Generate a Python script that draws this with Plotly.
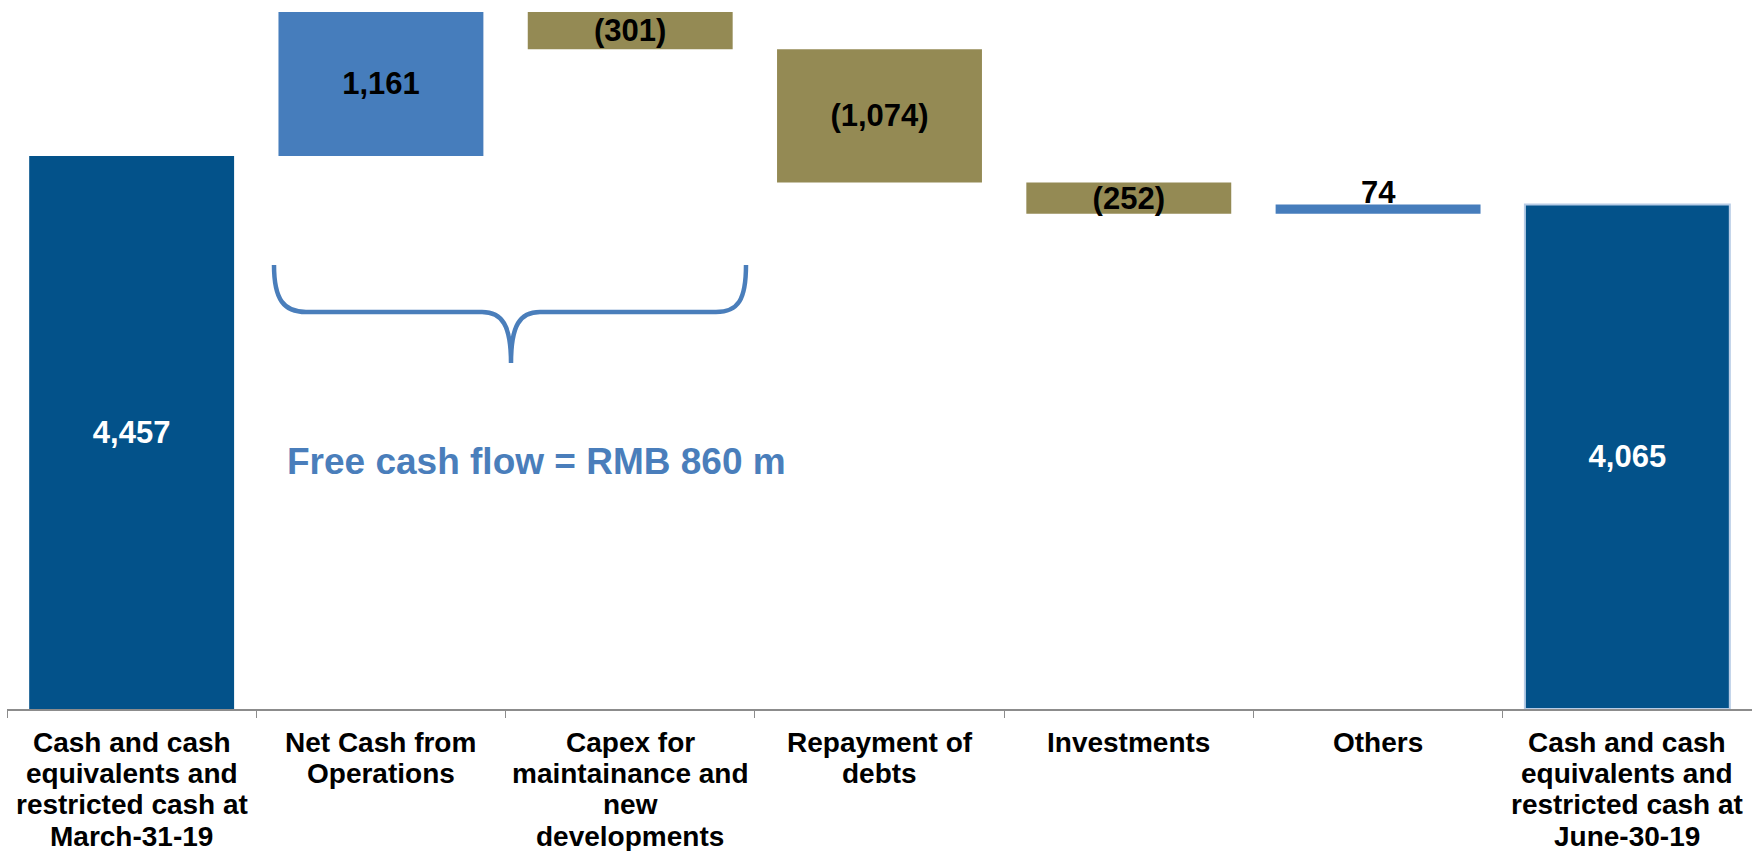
import plotly.graph_objects as go

# Cash bridge, RMB m
categories = [
    'Cash and cash<br>equivalents and<br>restricted cash at<br>March-31-19',
    'Net Cash from<br>Operations',
    'Capex for<br>maintainance and<br>new<br>developments',
    'Repayment of<br>debts',
    'Investments',
    'Others',
    'Cash and cash<br>equivalents and<br>restricted cash at<br>June-30-19',
]
opening_cash = 4457
movements = [1161, -301, -1074, -252, 74]
closing_cash = 4065
free_cash_flow = 860

FONT = 'Liberation Sans, Arial, sans-serif'
DARK_BLUE = '#03528A'
LIGHT_BLUE = '#467DBC'
OLIVE = '#948A54'
BRACE_BLUE = '#4A7EBB'


def fmt(v):
    return f'({abs(v):,})' if v < 0 else f'{v:,}'


# floating bars: each movement starts where the previous one ended
bases = [0]
heights = [opening_cash]
tops = [opening_cash]
running = opening_cash
for m in movements:
    bases.append(running)
    heights.append(m)
    running += m
    tops.append(max(running, running - m))
bases.append(0)
heights.append(closing_cash)
tops.append(closing_cash)

colors = [DARK_BLUE] + [LIGHT_BLUE if m > 0 else OLIVE for m in movements] + [DARK_BLUE]
text_colors = ['white'] + ['black'] * len(movements) + ['white']
line_colors = [DARK_BLUE] + colors[1:-1] + ['#B7CCE6']

# the thin "Others" bar gets its label sitting on top of it
labels = [f'<b>{fmt(h)}</b>' for h in heights]
thin = 5
thin_label = labels[thin]
labels[thin] = ''

fig = go.Figure()
fig.add_trace(go.Bar(
    x=categories,
    y=heights,
    base=bases,
    marker=dict(color=colors, line=dict(color=line_colors, width=[0, 0, 0, 0, 0, 0, 2])),
    text=labels,
    textposition='inside',
    textangle=0,
    constraintext='none',
    insidetextanchor='middle',
    textfont=dict(family=FONT, size=31, color=text_colors),
    cliponaxis=False,
    hoverinfo='skip',
))

fig.add_annotation(
    x=categories[thin], y=tops[thin], xref='x', yref='y',
    xanchor='center', yanchor='middle', yshift=12,
    text=thin_label, showarrow=False,
    font=dict(family=FONT, size=31, color='black'),
)

# category labels, tightly spaced like the slide
for cat in categories:
    for j, line in enumerate(cat.split('<br>')):
        fig.add_annotation(
            x=cat, xref='x', y=0, yref='paper',
            xanchor='center', yanchor='middle', yshift=-(33 + 31.4 * j),
            text=f'<b>{line}</b>', showarrow=False,
            font=dict(family=FONT, size=28, color='black'),
        )

# plot area in pixels: x 7..1752, y 0..709
def p(x, y):
    return f'{(x - 7) / 1745:.5f},{(709 - y) / 709:.5f}'

brace = (
    f'M {p(274, 265)} C {p(274, 300)} {p(284, 312)} {p(306, 312)} '
    f'L {p(482, 312)} C {p(502, 312)} {p(511, 325)} {p(511, 363)} '
    f'C {p(511, 325)} {p(520, 312)} {p(540, 312)} '
    f'L {p(716, 312)} C {p(738, 312)} {p(746, 300)} {p(746, 265)}'
)
fig.add_shape(type='path', path=brace, xref='paper', yref='paper',
              line=dict(color=BRACE_BLUE, width=4.5))

fig.add_annotation(
    x=(536 - 7) / 1745, y=(709 - 461) / 709, xref='paper', yref='paper',
    xanchor='center', yanchor='middle',
    text=f'<b>Free cash flow = RMB {free_cash_flow} m</b>', showarrow=False,
    font=dict(family=FONT, size=37, color=BRACE_BLUE),
)

fig.update_layout(
    width=1752, height=851,
    margin=dict(l=7, r=0, t=0, b=142),
    bargap=0.178,
    showlegend=False,
    plot_bgcolor='white',
    paper_bgcolor='white',
    xaxis=dict(
        type='category', range=[-0.5, 6.5], showgrid=False, zeroline=False,
        showline=True, linecolor='#8C8C8C', linewidth=2,
        ticks='outside', tickson='boundaries', ticklen=7,
        tickcolor='#8C8C8C', tickwidth=1, showticklabels=False,
    ),
    yaxis=dict(range=[0, 5714], visible=False),
)

# drop the browser's default body margin so the figure fills the window
fig.write_html('out.html', config={'displayModeBar': False},
               post_script="document.body.style.margin = '0';")
